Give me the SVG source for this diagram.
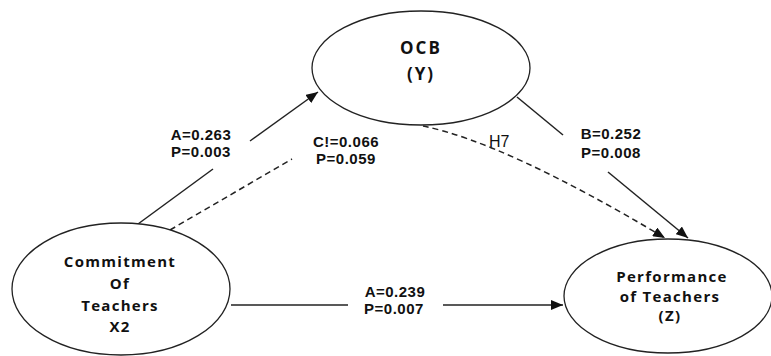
<svg xmlns="http://www.w3.org/2000/svg" width="771" height="356" viewBox="0 0 771 356">
  <style>
    .node { fill: #ffffff; stroke: #222222; stroke-width: 1.3; }
    .lbl { font-family: "Open Sans", "Liberation Sans", sans-serif; font-weight: bold; font-size: 15px; fill: #111111; text-anchor: middle; letter-spacing: 1.3px; }
    .big { font-size: 17px; letter-spacing: 2px; }
    .edge { stroke: #222222; stroke-width: 1.5; fill: none; }
    .dash { stroke-dasharray: 6 4; }
    .coef { font-family: "Liberation Sans", Arial, sans-serif; font-size: 15px; font-weight: bold; fill: #111111; text-anchor: middle; letter-spacing: 0.5px; }
    .tag { font-family: "Liberation Sans", Arial, sans-serif; font-size: 16px; fill: #111111; }
  </style>
  <defs>
    <marker id="head" viewBox="0 0 12 10" refX="12" refY="5" markerWidth="12" markerHeight="10" markerUnits="userSpaceOnUse" orient="auto">
      <path d="M0,0 L12,5 L0,10 Z" fill="#111111"/>
    </marker>
  </defs>

  <rect width="771" height="356" fill="#ffffff"/>

  <!-- connectors -->
  <g id="connectors">
    <!-- Commitment -> OCB (split around its label) -->
    <line class="edge" x1="138" y1="224" x2="213" y2="169"/>
    <line class="edge" x1="250" y1="141" x2="318" y2="92" marker-end="url(#head)"/>
    <!-- OCB -> Performance (split around its label) -->
    <line class="edge" x1="517" y1="97" x2="563" y2="135"/>
    <line class="edge" x1="608" y1="172" x2="688" y2="238" marker-end="url(#head)"/>
    <!-- Commitment -> Performance (split around its label) -->
    <line class="edge" x1="231" y1="305" x2="348" y2="305"/>
    <line class="edge" x1="443" y1="305" x2="563" y2="305" marker-end="url(#head)"/>
    <!-- indirect path, dashed -->
    <line class="edge dash" x1="170" y1="230" x2="292" y2="159"/>
    <path class="edge dash" d="M423,126 Q506,143 665,238" marker-end="url(#head)"/>
  </g>

  <!-- nodes -->
  <g id="node-ocb">
    <ellipse class="node" cx="421" cy="68" rx="109" ry="57"/>
    <text class="lbl big" x="421" y="54">OCB</text>
    <text class="lbl big" x="421" y="80">(Y)</text>
  </g>
  <g id="node-commitment">
    <ellipse class="node" cx="121" cy="289" rx="109" ry="66"/>
    <text class="lbl" x="120" y="267">Commitment</text>
    <text class="lbl" x="120" y="289">Of</text>
    <text class="lbl" x="120" y="311">Teachers</text>
    <text class="lbl" x="120" y="332">X2</text>
  </g>
  <g id="node-performance">
    <ellipse class="node" cx="668" cy="296" rx="104" ry="57"/>
    <text class="lbl" x="672" y="282">Performance</text>
    <text class="lbl" x="670" y="302">of Teachers</text>
    <text class="lbl" x="670" y="321">(Z)</text>
  </g>

  <!-- path coefficients -->
  <g id="labels">
    <text class="coef" x="201" y="140">A=0.263</text>
    <text class="coef" x="201" y="157">P=0.003</text>
    <text class="coef" x="346" y="147">C!=0.066</text>
    <text class="coef" x="346" y="164">P=0.059</text>
    <text class="coef" x="611" y="139">B=0.252</text>
    <text class="coef" x="611" y="158">P=0.008</text>
    <text class="coef" x="395" y="297">A=0.239</text>
    <text class="coef" x="394" y="314">P=0.007</text>
    <text class="tag" x="489" y="147">H7</text>
  </g>
</svg>
